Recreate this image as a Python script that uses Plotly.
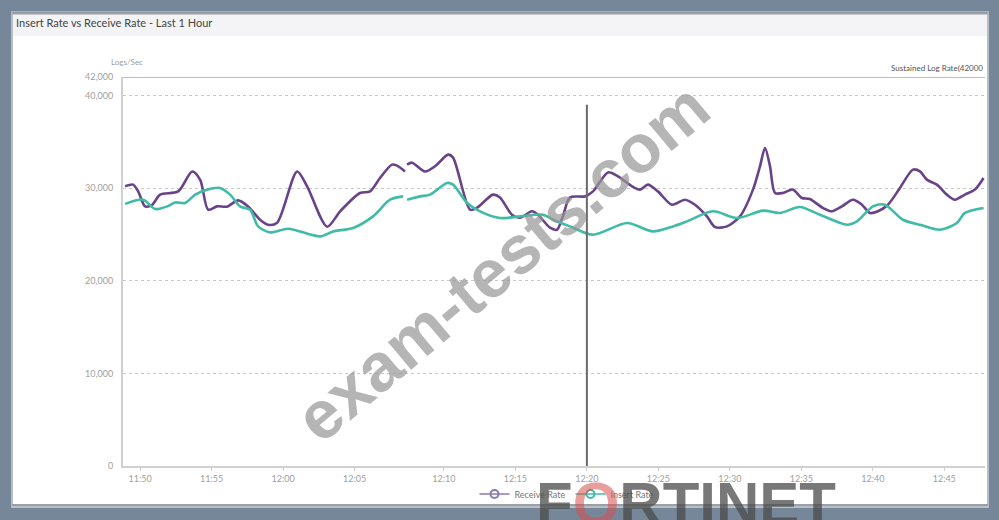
import plotly.graph_objects as go

# Sample positions in minutes after 11:50 (axis spacing as in the source chart)
tick_pos = [0, 5, 10, 15, 21.25, 26.25, 31.25, 36.25, 41.25, 46.25, 51.25, 56.25]
tick_text = ["11:50", "11:55", "12:00", "12:05", "12:10", "12:15", "12:20",
             "12:25", "12:30", "12:35", "12:40", "12:45"]

receive_t = [-1.05, -0.49, -0.14, 0.35, 0.84, 1.40, 2.66, 3.64, 4.20, 4.76, 5.38, 6.08,
             6.85, 7.55, 8.39, 8.95, 9.58, 10.98, 11.68, 13.08, 13.99, 15.38, 16.08,
             16.78, 17.62, 17.97, 18.53, 18.6, 18.67, 19.02, 19.93, 20.63, 21.54, 21.89,
             23.08, 23.57, 24.69, 25.17, 26.01, 26.57, 27.41, 27.83, 28.67, 29.16,
             29.58, 30.07, 31.12, 31.68, 32.73, 33.43, 34.41, 34.97, 35.52, 36.22,
             37.20, 38.11, 38.81, 39.65, 40.21, 41.05, 41.96, 42.87, 43.36, 43.71,
             44.06, 44.41, 44.97, 45.66, 46.29, 46.85, 47.76, 48.39, 49.09, 49.86,
             50.49, 51.05, 51.61, 52.31, 53.15, 54.06, 54.55, 55.03, 55.73, 56.43,
             56.99, 57.69, 58.39, 59.0]
receive_rate = [30200, 30380, 29650, 28030, 28200, 29300, 29650, 31800, 30900, 27670,
                28030, 28000, 28680, 28030, 26590, 26050, 26270, 31800, 30200, 25840,
                27500, 29480, 29650, 31100, 32540, 32430, 31800, None, 32540, 32750,
                31800, 32360, 33620, 33300, 27670, 27890, 29300, 29000, 27130, 26800,
                27500, 27130, 25730, 25510, 27000, 29000, 29110, 29650, 31700, 31270,
                30200, 29840, 30380, 29650, 28210, 28750, 28210, 26950, 25800, 25870,
                26950, 29840, 32360, 34340, 32360, 29480, 29480, 29840, 28940, 28830,
                27860, 27500, 28030, 28750, 28210, 27320, 27500, 28210, 30020, 32000,
                31820, 30920, 30380, 29300, 28750, 29300, 29840, 31100]

insert_t = [-1.05, 0.21, 1.05, 1.89, 2.45, 3.15, 3.85, 4.69, 5.59, 6.29, 6.99, 7.69,
            8.25, 9.09, 10.35, 12.59, 13.50, 14.90, 16.29, 17.48, 18.39, 18.53, 18.67,
            19.58, 20.28, 21.47, 21.89, 22.87, 23.78, 25.17, 26.57, 28.18, 28.88,
            30.07, 31.68, 34.06, 35.87, 37.27, 38.25, 40.07, 41.75, 43.57, 44.76,
            46.15, 47.55, 49.44, 50.14, 51.26, 52.10, 53.36, 54.55, 55.94, 57.13,
            57.69, 59.0]
insert_rate = [28300, 28750, 27750, 28030, 28460, 28400, 29300, 29840, 30020, 29300,
               28030, 27670, 25870, 25220, 25620, 24790, 25330, 25700, 26950, 28750,
               29110, None, 28750, 29110, 29300, 30560, 30380, 28400, 27500, 26770,
               26950, 27130, 26590, 25870, 24970, 26230, 25330, 25870, 26410, 27500,
               26770, 27570, 27320, 27970, 27130, 26050, 26410, 28030, 28210, 26590,
               26050, 25510, 26230, 27320, 27860]

y_ticks = [0, 10000, 20000, 30000, 40000, 42000]
y_tick_text = ["0", "10,000", "20,000", "30,000", "40,000", "42,000"]
sustained_rate = 42000
cursor_t = 31.25

purple = "#69438a"
teal = "#40bba6"
grey_txt = "#a0a0a0"

fig = go.Figure()
fig.add_trace(go.Scatter(x=receive_t, y=receive_rate, mode="lines",
                         line=dict(color=purple, width=2.6, shape="spline", smoothing=0.8),
                         showlegend=False, connectgaps=False))
fig.add_trace(go.Scatter(x=insert_t, y=insert_rate, mode="lines",
                         line=dict(color=teal, width=2.6, shape="spline", smoothing=0.8),
                         showlegend=False, connectgaps=False))
fig.add_trace(go.Scatter(x=[None], y=[None], mode="lines+markers", name="Receive Rate",
                         line=dict(color="#8a78b0", width=1.5),
                         marker=dict(symbol="circle-open", size=8, color="#8a78b0", line=dict(width=2))))
fig.add_trace(go.Scatter(x=[None], y=[None], mode="lines+markers", name="Insert Rate",
                         line=dict(color=teal, width=1.5),
                         marker=dict(symbol="circle-open", size=8, color=teal, line=dict(width=2))))

L, R, T, B = 123, 14, 77, 54
W, H = 999, 520
pw, ph = W - L - R, H - T - B
def px(x):
    return (x - L) / pw
def py(y):
    return (H - B - y) / ph

shapes = [
    dict(type="rect", xref="paper", yref="paper", x0=px(12), x1=px(988), y0=py(507), y1=py(12),
         fillcolor="white", line=dict(color="#b9bec6", width=2), layer="below"),
    dict(type="rect", xref="paper", yref="paper", x0=px(13), x1=px(987), y0=py(36), y1=py(13),
         fillcolor="#f4f4f6", line=dict(width=0), layer="below"),
    dict(type="line", xref="paper", yref="paper", x0=px(12), x1=px(988), y0=py(13), y1=py(13),
         line=dict(color="#9a9ea6", width=3), layer="below"),
    dict(type="line", xref="paper", yref="paper", x0=px(12), x1=px(988), y0=py(505), y1=py(505),
         line=dict(color="#9a9ea6", width=2), layer="below"),
    dict(type="line", xref="paper", yref="y", x0=0, x1=1, y0=sustained_rate, y1=sustained_rate,
         line=dict(color="#bcbccc", width=2)),
    dict(type="line", xref="x", yref="y", x0=cursor_t, x1=cursor_t, y0=0, y1=39000,
         line=dict(color="#6a6a6a", width=2)),
]

annotations = [
    dict(text="Insert Rate vs Receive Rate - Last 1 Hour", xref="paper", yref="paper",
         x=px(14), y=py(22), xanchor="left", yanchor="middle", showarrow=False,
         font=dict(family="Lato", size=11, color="#444")),
    dict(text="Logs/Sec", xref="paper", yref="paper", x=px(127), y=py(62),
         xanchor="center", yanchor="middle", showarrow=False,
         font=dict(family="Lato", size=8, color=grey_txt)),
    dict(text="Sustained Log Rate(42000", xref="paper", yref="y", x=1.0, y=sustained_rate,
         xanchor="right", yanchor="bottom", yshift=2, showarrow=False,
         font=dict(family="Lato", size=8, color="#555")),
    dict(text="<b>exam-tests.com</b>", xref="paper", yref="paper", x=px(502), y=py(262),
         xanchor="center", yanchor="middle", showarrow=False, textangle=-40,
         font=dict(family="Liberation Sans", size=68, color="rgba(150,150,150,0.7)")),
    dict(text="<b>F<span style='color:rgba(215,80,80,0.75)'>O</span>RTINET</b>", xref="paper", yref="paper",
         x=px(686), y=py(503), xanchor="center", yanchor="middle", showarrow=False,
         font=dict(family="Liberation Sans", size=60, color="rgba(75,75,75,0.75)")),
]

fig.update_layout(
    width=W, height=H,
    margin=dict(l=L, r=R, t=T, b=B),
    paper_bgcolor="#758799",
    plot_bgcolor="rgba(0,0,0,0)",
    shapes=shapes,
    annotations=annotations,
    legend=dict(orientation="h", x=px(567), y=py(494), xanchor="center", yanchor="middle",
                bgcolor="rgba(0,0,0,0)", font=dict(family="Lato", size=9, color="#777")),
    xaxis=dict(range=[-1.2, 59.1], tickvals=tick_pos, ticktext=tick_text,
               showgrid=False, zeroline=False, showline=True, linecolor="#d0d0d0", linewidth=2,
               ticks="outside", ticklen=3, tickcolor="#d0d0d0",
               tickfont=dict(family="Lato", size=9, color=grey_txt)),
    yaxis=dict(range=[0, 42000], tickvals=y_ticks, ticktext=y_tick_text,
               showgrid=True, gridcolor="#c8c8c8", griddash="dot", gridwidth=1,
               zeroline=False, showline=True, linecolor="#d0d0d0", linewidth=2,
               ticks="", ticklabelstandoff=6,
               tickfont=dict(family="Lato", size=9, color=grey_txt)),
)

fig.write_html("out.html", config={"displayModeBar": False},
               post_script="document.body.style.margin='0';document.body.style.overflow='hidden';")
